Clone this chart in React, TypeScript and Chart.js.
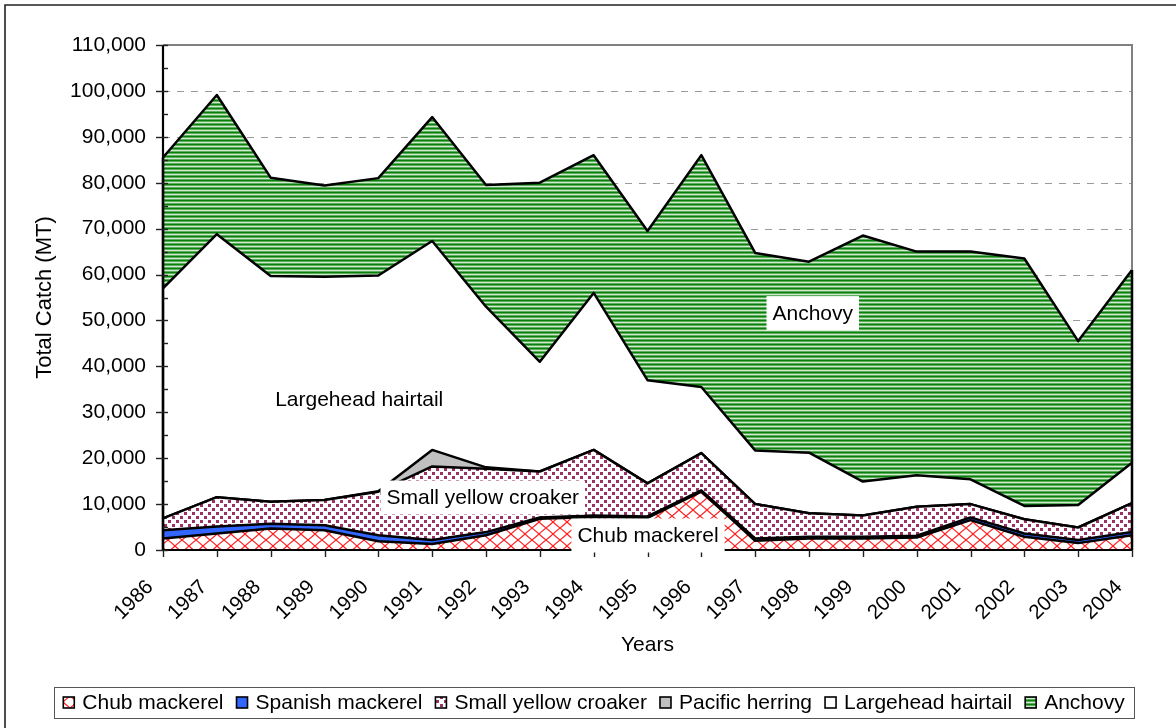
import React, { useEffect, useRef } from 'react';
import { Chart, registerables } from 'chart.js';

Chart.register(...registerables);

const years = ['1986', '1987', '1988', '1989', '1990', '1991', '1992', '1993', '1994', '1995', '1996', '1997', '1998', '1999', '2000', '2001', '2002', '2003', '2004'];

const chubMackerel = [2500, 3600, 4700, 4300, 1900, 1300, 3200, 6800, 7200, 7000, 12700, 2000, 2500, 2500, 2700, 6500, 2900, 1500, 3200];
const spanishMackerel = [1800, 1500, 1000, 1100, 1300, 900, 700, 300, 300, 300, 300, 500, 400, 400, 400, 600, 700, 700, 700];
const smallYellowCroaker = [2600, 6400, 4800, 5500, 9500, 16000, 13800, 10000, 14300, 7200, 8100, 7500, 5100, 4600, 6300, 2900, 3100, 2700, 6300];
const pacificHerring = [0, 0, 0, 0, 100, 3600, 300, 0, 0, 0, 0, 0, 0, 0, 0, 0, 0, 0, 0];
const largeheadHairtail = [50100, 57300, 49200, 48600, 47000, 45500, 35000, 23900, 34200, 22500, 14400, 11700, 13200, 7400, 6900, 5400, 2900, 4900, 8800];
const anchovy = [28500, 30300, 21400, 19900, 21200, 27000, 26500, 39000, 30000, 32500, 50500, 43000, 41600, 53600, 48700, 49600, 53900, 35700, 42000];

const seriesNames = ['Chub mackerel', 'Spanish mackerel', 'Small yellow croaker', 'Pacific herring', 'Largehead hairtail', 'Anchovy'];
const seriesData = [chubMackerel, spanishMackerel, smallYellowCroaker, pacificHerring, largeheadHairtail, anchovy];

const yMin = 0;
const yMax = 110000;
const yStep = 10000;

// in-chart labels: text, category position (index), value position
const noteTexts = ['Anchovy', 'Largehead hairtail', 'Small yellow croaker', 'Chub mackerel'];
const noteAtIndex = [12.07, 3.645, 5.94, 9.01];
const noteAtValue = [51600, 32900, 11430, 3160];
const noteBoxed = [true, false, true, true];

const FONT = "'Liberation Sans', Arial, Helvetica, sans-serif";

function makePattern(ctx: CanvasRenderingContext2D, w: number, h: number, draw: (g: CanvasRenderingContext2D) => void) {
  const c = document.createElement('canvas');
  c.width = w;
  c.height = h;
  const g = c.getContext('2d') as CanvasRenderingContext2D;
  draw(g);
  return ctx.createPattern(c, 'repeat') as CanvasPattern;
}

function buildFills(ctx: CanvasRenderingContext2D) {
  const chub = makePattern(ctx, 14, 12, (g) => {
    g.fillStyle = '#ffffff';
    g.fillRect(0, 0, 14, 12);
    g.strokeStyle = '#ff2020';
    g.lineWidth = 1.1;
    g.beginPath();
    g.moveTo(0, 0);
    g.quadraticCurveTo(5, 4, 7, 6);
    g.quadraticCurveTo(9, 8, 14, 12);
    g.moveTo(14, 0);
    g.quadraticCurveTo(9, 4, 7, 6);
    g.quadraticCurveTo(5, 8, 0, 12);
    g.stroke();
  });
  const croaker = makePattern(ctx, 8, 8, (g) => {
    g.fillStyle = '#ffffff';
    g.fillRect(0, 0, 8, 8);
    g.fillStyle = '#993366';
    g.fillRect(0, 0, 3, 3);
    g.fillRect(4, 4, 3, 3);
  });
  const anch = makePattern(ctx, 4, 4, (g) => {
    const rows = ['#0a800a', '#5cad5c', '#d2ead2', '#5cad5c'];
    rows.forEach((c, i) => {
      g.fillStyle = c;
      g.fillRect(0, i, 4, 1);
    });
  });
  return [chub, '#3366ff', croaker, '#c0c0c0', '#ffffff', anch];
}

const decorPlugin = {
  id: 'decor',
  beforeDraw(chart: any) {
    const ctx = chart.ctx as CanvasRenderingContext2D;
    ctx.save();
    ctx.fillStyle = '#ffffff';
    ctx.fillRect(0, 0, chart.width, chart.height);
    ctx.strokeStyle = '#222222';
    ctx.lineWidth = 1.6;
    ctx.beginPath();
    ctx.moveTo(5, chart.height + 2);
    ctx.lineTo(5, 5);
    ctx.lineTo(chart.width + 2, 5);
    ctx.stroke();
    ctx.restore();
  },
  beforeDatasetsDraw(chart: any) {
    const ctx = chart.ctx as CanvasRenderingContext2D;
    const { left, right } = chart.chartArea;
    const ys = chart.scales.y;
    ctx.save();
    ctx.strokeStyle = '#9a9a9a';
    ctx.lineWidth = 1;
    ctx.setLineDash([7, 7]);
    for (let v = yMin + yStep; v < yMax; v += yStep) {
      const y = Math.round(ys.getPixelForValue(v)) + 0.5;
      ctx.beginPath();
      ctx.moveTo(left, y);
      ctx.lineTo(right, y);
      ctx.stroke();
    }
    ctx.restore();
  },
  afterDatasetsDraw(chart: any) {
    const ctx = chart.ctx as CanvasRenderingContext2D;
    const { left, right, top, bottom } = chart.chartArea;
    const xs = chart.scales.x;
    const ys = chart.scales.y;
    ctx.save();
    // plot area border (top and right)
    ctx.strokeStyle = '#808080';
    ctx.lineWidth = 2;
    ctx.beginPath();
    ctx.moveTo(left, top);
    ctx.lineTo(right, top);
    ctx.lineTo(right, bottom);
    ctx.stroke();
    // vertical edges of stacked areas
    const n = years.length;
    const totals = years.map((_, i) => seriesData.reduce((s, arr) => s + arr[i], 0));
    ctx.strokeStyle = '#000000';
    ctx.lineWidth = 2.5;
    [0, n - 1].forEach((i) => {
      const x = xs.getPixelForValue(i);
      ctx.beginPath();
      ctx.moveTo(x, ys.getPixelForValue(0));
      ctx.lineTo(x, ys.getPixelForValue(totals[i]));
      ctx.stroke();
    });
    // axes
    ctx.lineWidth = 2.2;
    ctx.beginPath();
    ctx.moveTo(left, top);
    ctx.lineTo(left, bottom);
    ctx.lineTo(right, bottom);
    ctx.stroke();
    // y ticks
    ctx.lineWidth = 1.4;
    ctx.strokeStyle = '#222222';
    for (let v = yMin; v <= yMax; v += yStep / 2) {
      const y = Math.round(ys.getPixelForValue(v)) + 0.5;
      const major = v % yStep === 0;
      ctx.beginPath();
      ctx.moveTo(major ? left - 7 : left, y);
      ctx.lineTo(left + 5, y);
      ctx.stroke();
    }
    // x ticks
    for (let i = 0; i < n; i++) {
      const x = Math.round(xs.getPixelForValue(i)) + 0.5;
      ctx.beginPath();
      ctx.moveTo(x, bottom);
      ctx.lineTo(x, bottom + 7);
      ctx.stroke();
    }
    // notes
    ctx.font = `21px ${FONT}`;
    ctx.textAlign = 'center';
    ctx.textBaseline = 'middle';
    noteTexts.forEach((t, i) => {
      const cx = xs.getPixelForValue(noteAtIndex[i]);
      const cy = ys.getPixelForValue(noteAtValue[i]);
      const w = ctx.measureText(t).width;
      if (noteBoxed[i]) {
        ctx.fillStyle = '#ffffff';
        ctx.fillRect(cx - w / 2 - 6, cy - 17, w + 12, 34);
      }
      ctx.fillStyle = '#000000';
      ctx.fillText(t, cx, cy + 1);
    });
    ctx.restore();
  },
  afterDraw(chart: any) {
    const ctx = chart.ctx as CanvasRenderingContext2D;
    const { left, right, top, bottom } = chart.chartArea;
    const xs = chart.scales.x;
    ctx.save();
    ctx.fillStyle = '#000000';
    // x tick labels, rotated 45 degrees
    ctx.font = `20.5px ${FONT}`;
    ctx.textAlign = 'right';
    ctx.textBaseline = 'middle';
    years.forEach((yr, i) => {
      const x = xs.getPixelForValue(i);
      ctx.save();
      ctx.translate(x - 13, bottom + 34);
      ctx.rotate(-Math.PI / 4);
      ctx.fillText(yr, 0, 0);
      ctx.restore();
    });
    ctx.font = `21px ${FONT}`;
    ctx.textAlign = 'center';
    // axis titles
    ctx.fillText('Years', (left + right) / 2, 645);
    ctx.save();
    ctx.font = `22px ${FONT}`;
    ctx.translate(45, (top + bottom) / 2);
    ctx.rotate(-Math.PI / 2);
    ctx.fillText('Total Catch (MT)', 0, 0);
    ctx.restore();
    // legend
    const boxL = 54, boxR = 1134, boxT = 687, boxB = 718;
    ctx.strokeStyle = '#555555';
    ctx.lineWidth = 1;
    ctx.strokeRect(boxL + 0.5, boxT + 0.5, boxR - boxL, boxB - boxT);
    const marker = 11, gapM = 8, spacing = 13;
    const widths = seriesNames.map((s) => ctx.measureText(s).width);
    const total = widths.reduce((s, w) => s + marker + gapM + w, 0) + spacing * (seriesNames.length - 1);
    let x = (boxL + boxR) / 2 - total / 2;
    const cy = (boxT + boxB) / 2;
    const metas = chart.data.datasets;
    ctx.textAlign = 'left';
    seriesNames.forEach((s, i) => {
      ctx.fillStyle = metas[i].backgroundColor;
      ctx.fillRect(x, cy - marker / 2, marker, marker);
      ctx.strokeStyle = '#000000';
      ctx.lineWidth = 1.6;
      ctx.strokeRect(x, cy - marker / 2, marker, marker);
      ctx.fillStyle = '#000000';
      ctx.fillText(s, x + marker + gapM, cy + 1);
      x += marker + gapM + widths[i] + spacing;
    });
    ctx.restore();
  },
};

export default function App() {
  const ref = useRef<HTMLCanvasElement | null>(null);
  useEffect(() => {
    const canvas = ref.current;
    if (!canvas) return;
    const ctx = canvas.getContext('2d') as CanvasRenderingContext2D;
    const fills = buildFills(ctx);
    const chart = new Chart(ctx, {
      type: 'line',
      data: {
        labels: years,
        datasets: seriesNames.map((name, i) => ({
          label: name,
          data: seriesData[i],
          backgroundColor: fills[i] as any,
          borderColor: '#000000',
          borderWidth: 2.5,
          borderJoinStyle: 'round' as const,
          fill: i === 0 ? 'origin' : '-1',
          pointRadius: 0,
          pointHoverRadius: 0,
          tension: 0,
        })),
      },
      options: {
        animation: false,
        responsive: false,
        devicePixelRatio: 1,
        events: [],
        layout: { padding: { left: 0, right: 44, top: 45, bottom: 0 } },
        plugins: {
          legend: { display: false },
          tooltip: { enabled: false },
          title: { display: false },
        },
        scales: {
          x: {
            type: 'category',
            offset: false,
            grid: { display: false, drawTicks: false },
            border: { display: false },
            ticks: { display: false, autoSkip: false },
            afterFit: (s: any) => {
              s.height = 178;
            },
          },
          y: {
            stacked: true,
            min: yMin,
            max: yMax,
            grid: { display: false, drawTicks: false },
            border: { display: false },
            ticks: {
              stepSize: yStep,
              padding: 17,
              color: '#000000',
              font: { family: FONT, size: 21 },
              callback: (v: any) => Number(v).toLocaleString('en-US'),
            },
            afterFit: (s: any) => {
              s.width = 163;
            },
          },
        },
      },
      plugins: [decorPlugin],
    });
    return () => chart.destroy();
  }, []);
  return (
    <div style={{ position: 'fixed', left: 0, top: 0, width: 1176, height: 728, background: '#ffffff' }}>
      <canvas ref={ref} width={1176} height={728} style={{ display: 'block' }} />
    </div>
  );
}
